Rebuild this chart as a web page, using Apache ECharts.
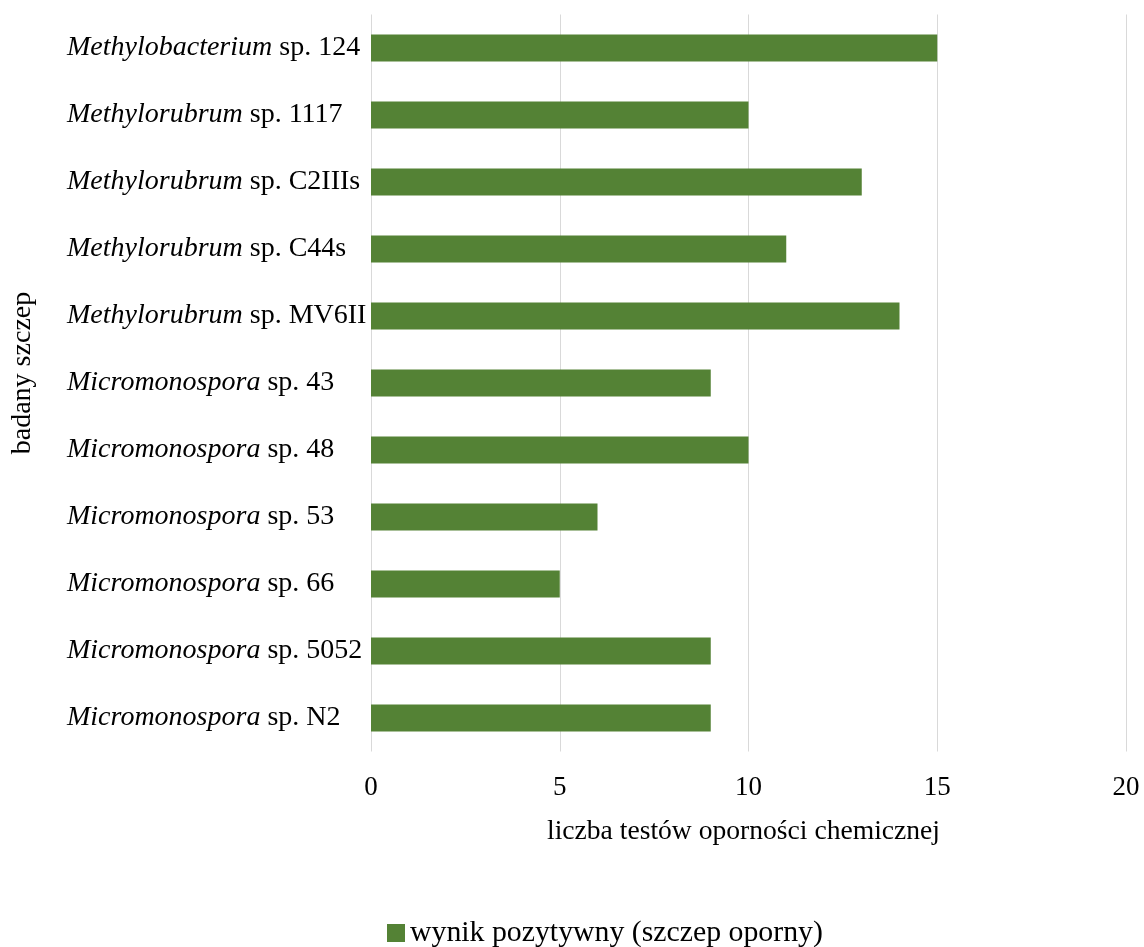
<!DOCTYPE html>
<html>
<head>
<meta charset="utf-8">
<script src="https://cdn.jsdelivr.net/npm/echarts@6/dist/echarts.min.js"></script>
<style>
  html, body { margin: 0; padding: 0; background: #fff; }
  #chart { width: 1144px; height: 947px; }
</style>
</head>
<body>
<div id="chart"></div>
<script>
// Strains tested (genus shown in italics, strain designation upright)
const genera = ['Methylobacterium', 'Methylorubrum', 'Methylorubrum', 'Methylorubrum', 'Methylorubrum',
  'Micromonospora', 'Micromonospora', 'Micromonospora', 'Micromonospora', 'Micromonospora', 'Micromonospora'];
const strains = ['sp. 124', 'sp. 1117', 'sp. C2IIIs', 'sp. C44s', 'sp. MV6II',
  'sp. 43', 'sp. 48', 'sp. 53', 'sp. 66', 'sp. 5052', 'sp. N2'];
// Number of chemical resistance tests with a positive result
const positives = [15, 10, 13, 11, 14, 9, 10, 6, 5, 9, 9];
const xTicks = [0, 5, 10, 15, 20];

const categories = genera.map((g, i) => g + '|' + strains[i]);
const FONT = '"Liberation Serif", "Times New Roman", serif';
const GREEN = '#548235';

const chart = echarts.init(document.getElementById('chart'));
chart.setOption({
  animation: false,
  textStyle: { fontFamily: FONT, color: '#000' },
  grid: { left: 371, right: 18, top: 14.5, bottom: 195.5, containLabel: false },
  legend: {
    top: 918,
    left: 387,
    padding: 0,
    icon: 'rect',
    itemWidth: 18,
    itemHeight: 18,
    textStyle: { fontFamily: FONT, fontSize: 29.8, color: '#000' },
    data: ['wynik pozytywny (szczep oporny)']
  },
  xAxis: {
    type: 'value',
    min: xTicks[0],
    max: xTicks[xTicks.length - 1],
    interval: xTicks[1] - xTicks[0],
    axisLine: { show: false },
    axisTick: { show: false },
    splitLine: { lineStyle: { color: '#d9d9d9', width: 1 } },
    axisLabel: { fontFamily: FONT, fontSize: 27, color: '#000', margin: 23 },
    name: 'liczba testów oporności chemicznej',
    nameLocation: 'middle',
    nameGap: 66,
    nameTextStyle: { fontFamily: FONT, fontSize: 27.6, color: '#000', padding: [0, 10, 0, 0] }
  },
  yAxis: {
    type: 'category',
    inverse: true,
    data: categories,
    axisLine: { show: false },
    axisTick: { show: false },
    splitLine: { show: false },
    axisLabel: {
      margin: 304,
      align: 'left',
      fontFamily: FONT,
      fontSize: 28,
      color: '#000',
      formatter: v => {
        const [g, s] = v.split('|');
        return '{i|' + g + '} ' + s;
      },
      rich: {
        i: { fontFamily: FONT, fontSize: 28, fontStyle: 'italic', color: '#000' }
      }
    },
    name: 'badany szczep',
    nameLocation: 'middle',
    nameGap: 334,
    nameRotate: 90,
    nameTextStyle: { fontFamily: FONT, fontSize: 28, color: '#000', padding: [0, 0, 0, 20] }
  },
  series: [{
    name: 'wynik pozytywny (szczep oporny)',
    type: 'bar',
    data: positives,
    barWidth: 27,
    itemStyle: { color: GREEN }
  }]
});
</script>
</body>
</html>
